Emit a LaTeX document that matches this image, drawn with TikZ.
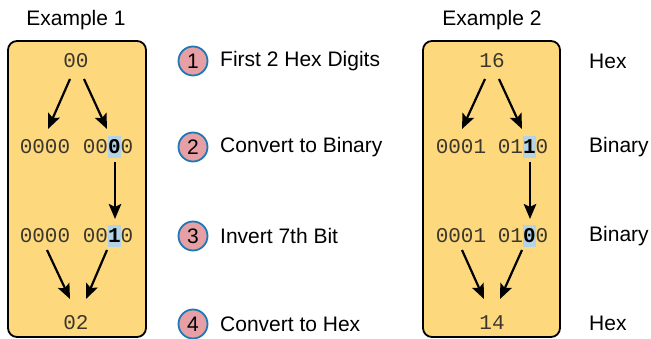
\documentclass[tikz,border=0pt]{standalone}
\usepackage{fontspec}
\setmainfont{Liberation Sans}
\setmonofont{Liberation Mono}
\usetikzlibrary{arrows.meta}
\definecolor{boxfill}{RGB}{253,216,125}
\definecolor{hlblue}{RGB}{180,211,230}
\definecolor{stepfill}{RGB}{230,160,165}
\definecolor{stepdraw}{RGB}{30,120,180}
\definecolor{digit}{RGB}{60,55,45}
\newcommand{\hlbit}[1]{{\setlength{\fboxsep}{0pt}\colorbox{hlblue}{\rule[-4pt]{0pt}{22pt}\textbf{\color{black}#1}}}}
\begin{document}
\begin{tikzpicture}[x=1pt,y=-1pt,
  exbox/.style={draw=black,line width=1.8pt,fill=boxfill,rounded corners=9pt},
  title/.style={font=\fontsize{21}{23}\selectfont,inner sep=0pt},
  bits/.style={font=\ttfamily\fontsize{21}{22}\selectfont,text=digit,inner sep=0pt,anchor=base},
  arr/.style={line width=2.2pt,-{Stealth[length=15pt,width=12.5pt,inset=3pt]}},
  stepnum/.style={circle,draw=stepdraw,line width=1.8pt,fill=stepfill,minimum size=29pt,inner sep=0pt,font=\fontsize{21}{23}\selectfont},
  steplab/.style={anchor=west,inner sep=0pt,font=\fontsize{21}{23}\selectfont},
  kindlab/.style={anchor=west,inner sep=0pt,font=\fontsize{21}{23}\selectfont}]
\useasboundingbox (0,0) rectangle (651,339);
% Example 1
\node[title] (t1) at (76,20) {Example 1};
\draw[exbox] (8,41) rectangle (146,337);
\node[bits] (h1) at (76,68) {00};
\node[bits] (a1) at (45,154) {0000};
\node[bits] (b1) at (108,154) {00\hlbit{0}0};
\node[bits] (c1) at (45,243) {0000};
\node[bits] (d1) at (108,243) {00\hlbit{1}0};
\node[bits] (e1) at (76,330) {02};
\coordinate (p1a) at (70,79); \coordinate (q1a) at (48,129);
\coordinate (p1b) at (84,79); \coordinate (q1b) at (107,129);
\coordinate (p1c) at (115,162); \coordinate (q1c) at (115,219);
\coordinate (p1d) at (47,250); \coordinate (q1d) at (70,299);
\coordinate (p1e) at (107,250); \coordinate (q1e) at (86,299);
\draw[arr] (p1a) -- (q1a);
\draw[arr] (p1b) -- (q1b);
\draw[arr] (p1c) -- (q1c);
\draw[arr] (p1d) -- (q1d);
\draw[arr] (p1e) -- (q1e);
% Steps
\foreach \n/\y/\t in {1/61/First 2 Hex Digits,2/147/Convert to Binary,3/236/Invert 7th Bit,4/324/Convert to Hex}{
  \node[stepnum] (s\n) at (193,\y) {\n};
  \node[steplab] (l\n) at (220,\y) {\t};
}
% Example 2
\node[title] (t2) at (492,20) {Example 2};
\draw[exbox] (423,41) rectangle (560,337);
\node[bits] (h2) at (492,68) {16};
\node[bits] (a2) at (461,154) {0001};
\node[bits] (b2) at (523,154) {01\hlbit{1}0};
\node[bits] (c2) at (461,243) {0001};
\node[bits] (d2) at (523,243) {01\hlbit{0}0};
\node[bits] (e2) at (492,330) {14};
\coordinate (p2a) at (485,79); \coordinate (q2a) at (462,129);
\coordinate (p2b) at (499,79); \coordinate (q2b) at (522,129);
\coordinate (p2c) at (530,162); \coordinate (q2c) at (530,219);
\coordinate (p2d) at (462,250); \coordinate (q2d) at (484,299);
\coordinate (p2e) at (522,250); \coordinate (q2e) at (500,299);
\draw[arr] (p2a) -- (q2a);
\draw[arr] (p2b) -- (q2b);
\draw[arr] (p2c) -- (q2c);
\draw[arr] (p2d) -- (q2d);
\draw[arr] (p2e) -- (q2e);
% Kind labels
\node[kindlab] (k1) at (589,61) {Hex};
\node[kindlab] (k2) at (589,147) {Binary};
\node[kindlab] (k3) at (589,236) {Binary};
\node[kindlab] (k4) at (589,323) {Hex};
\end{tikzpicture}
\end{document}
